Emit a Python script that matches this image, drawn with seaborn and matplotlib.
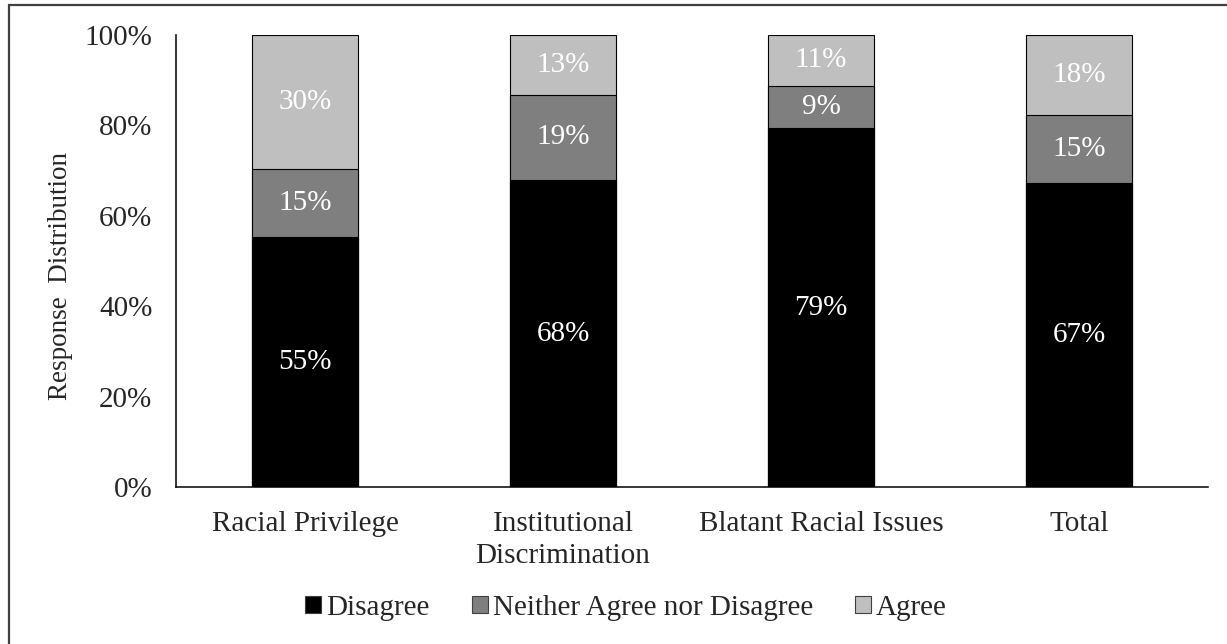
import matplotlib
matplotlib.use("Agg")
import matplotlib.pyplot as plt
from matplotlib.patches import Rectangle, Patch
import seaborn as sns
import numpy as np

categories = ["Racial Privilege", "Institutional\nDiscrimination", "Blatant Racial Issues", "Total"]
disagree = [55.4, 67.9, 79.4, 67.2]
neither = [15.0, 18.9, 9.4, 15.0]
agree = [29.6, 13.2, 11.2, 17.8]
series_names = ["Disagree", "Neither Agree nor Disagree", "Agree"]
colors = ["#000000", "#7f7f7f", "#bfbfbf"]
yticks = [0, 20, 40, 60, 80, 100]

sns.set_style("white")
plt.rcParams["font.family"] = ["Liberation Serif", "DejaVu Serif"]

fig = plt.figure(figsize=(12.27, 6.44), dpi=100)
ax = fig.add_axes([176 / 1227, 1 - 487 / 644, (1208 - 176) / 1227, (487 - 35) / 644])

series = [disagree, neither, agree]
cums = np.cumsum(np.array(series), axis=0)

# draw from top of stack down so lower segments overlay
for i in range(len(series) - 1, -1, -1):
    sns.barplot(x=categories, y=cums[i], color=colors[i], width=0.41,
                edgecolor="black", linewidth=0.8, saturation=1, ax=ax, zorder=2)

# segment labels
for j in range(len(categories)):
    bottom = 0
    for i in range(len(series)):
        v = series[i][j]
        ax.text(j, bottom + v / 2, f"{round(v):d}%", ha="center", va="center",
                color="white", fontsize=21, zorder=5)
        bottom += v

ax.set_xlim(-0.5, len(categories) - 0.5)
ax.set_ylim(0, 100)
ax.set_yticks(yticks)
ax.set_yticklabels([f"{t}%" for t in yticks], fontsize=21)
ax.tick_params(axis="y", length=0, pad=17)
ax.tick_params(axis="x", length=0, pad=17, labelsize=21)
for lab in ax.get_xticklabels():
    lab.set_linespacing(1.32)
ax.set_xlabel("")
ax.set_ylabel("Response  Distribution", fontsize=19.5)
ax.yaxis.set_label_coords(-0.10, 0.467)

for s in ["top", "right"]:
    ax.spines[s].set_visible(False)
for s in ["left", "bottom"]:
    ax.spines[s].set_color("black")
    ax.spines[s].set_linewidth(1.1)

handles = [Patch(facecolor=c, edgecolor="#404040", linewidth=0.8) for c in colors]
fig.legend(handles, series_names, loc="center", bbox_to_anchor=(626 / 1227, 1 - 608 / 644),
           ncol=3, frameon=False, fontsize=21, handlelength=0.55, handleheight=0.55,
           handletextpad=0.17, columnspacing=1.45)

fig.patches.append(Rectangle((9 / 1227, -0.1), 1.2, 1.1 - 5 / 644,
                             transform=fig.transFigure, fill=False,
                             edgecolor="#404040", linewidth=1.6, zorder=10))

fig.savefig("out.png", dpi=100, facecolor="white")
